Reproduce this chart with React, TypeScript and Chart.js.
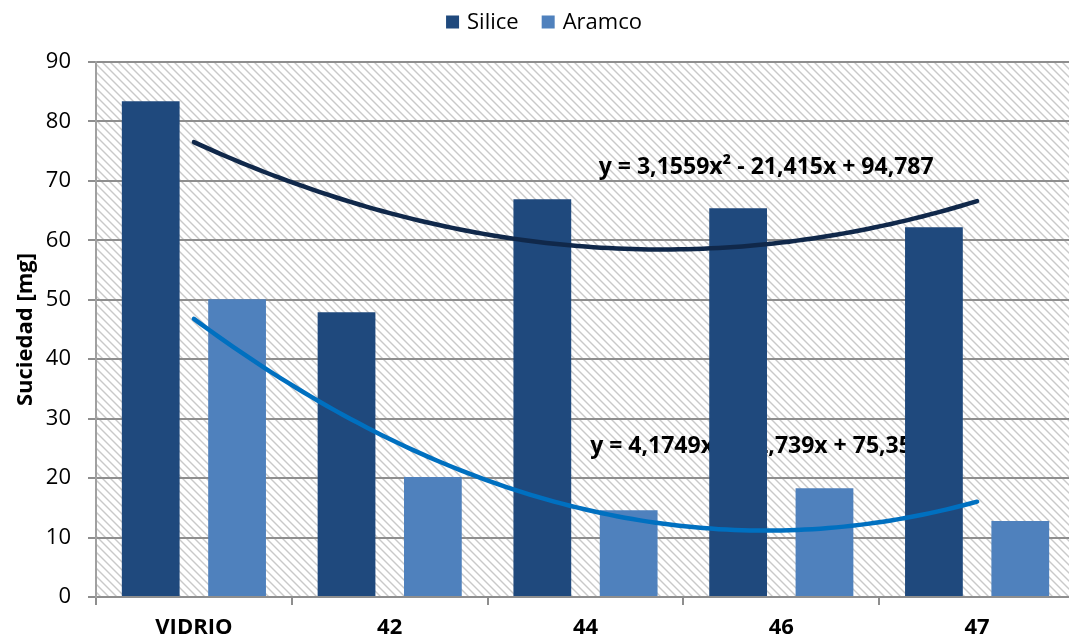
import React, { useEffect, useRef } from "react";
import { Chart, registerables } from "chart.js";

Chart.register(...registerables);

// ---- data ----
const categories = ["VIDRIO", "42", "44", "46", "47"];
const siliceValues = [83.4, 47.9, 66.9, 65.4, 62.2];
const aramcoValues = [50.1, 20.2, 14.6, 18.3, 12.8];
const yTickValues = [0, 10, 20, 30, 40, 50, 60, 70, 80, 90];

// polynomial trend lines (a·x² + b·x + c), x = 1..5 for the categories
const siliceTrendCoef = [3.1559, -21.415, 94.787];
const aramcoTrendCoef = [4.1749, -32.739, 75.358];
const siliceTrendLabel = "y = 3,1559x² - 21,415x + 94,787";
const aramcoTrendLabel = "y = 4,1749x² - 32,739x + 75,358";

const SILICE_COLOR = "#1F497D";
const ARAMCO_COLOR = "#4F81BD";
const SILICE_TREND_COLOR = "#10284A";
const ARAMCO_TREND_COLOR = "#0070C0";
const FONT = "'Open Sans', 'Noto Sans', sans-serif";

// the plot runs slightly past the right edge of the visible frame
const VIEW_W = 1069;
const VIEW_H = 642;
const CANVAS_W = 1075;

// diagonal hatch used as the plot-area background
function makeHatch(ctx: CanvasRenderingContext2D) {
  const tile = document.createElement("canvas");
  tile.width = 8;
  tile.height = 8;
  const t = tile.getContext("2d")!;
  t.fillStyle = "#ffffff";
  t.fillRect(0, 0, 8, 8);
  t.strokeStyle = "#C9C9C9";
  t.lineWidth = 1.4;
  for (const k of [-8, 0, 8]) {
    t.beginPath();
    t.moveTo(k - 1, -1);
    t.lineTo(k + 9, 9);
    t.stroke();
  }
  return ctx.createPattern(tile, "repeat");
}

const hatchBackground = {
  id: "hatchBackground",
  beforeDraw(chart: any) {
    const { ctx, chartArea } = chart;
    if (!chartArea) return;
    ctx.save();
    const p = makeHatch(ctx);
    if (p) ctx.fillStyle = p;
    ctx.fillRect(chartArea.left, chartArea.top, chartArea.right - chartArea.left, chartArea.bottom - chartArea.top);
    ctx.restore();
  },
};

// legend drawn above the plot
const legendStyle = { centerX: 544, centerY: 22, box: 13, gap: 8, spacing: 23, font: `22px ${FONT}` };

const legendPlugin = {
  id: "topLegend",
  afterDraw(chart: any) {
    const { ctx } = chart;
    const items = chart.data.datasets;
    ctx.save();
    ctx.font = legendStyle.font;
    ctx.textBaseline = "middle";
    ctx.textAlign = "left";
    const widths = items.map((d: any) => legendStyle.box + legendStyle.gap + ctx.measureText(d.label).width);
    const total = widths.reduce((a: number, b: number) => a + b, 0) + legendStyle.spacing * (items.length - 1);
    let x = legendStyle.centerX - total / 2;
    items.forEach((d: any, i: number) => {
      ctx.fillStyle = d.backgroundColor;
      ctx.fillRect(x, legendStyle.centerY - legendStyle.box / 2, legendStyle.box, legendStyle.box);
      ctx.fillStyle = "#000000";
      ctx.fillText(d.label, x + legendStyle.box + legendStyle.gap, legendStyle.centerY + 1);
      x += widths[i] + legendStyle.spacing;
    });
    ctx.restore();
  },
};

// trend curves, drawn over the bars through the chart's own scales
const trendCurves = [
  { coef: siliceTrendCoef, color: SILICE_TREND_COLOR },
  { coef: aramcoTrendCoef, color: ARAMCO_TREND_COLOR },
];

const trendPlugin = {
  id: "trendCurves",
  afterDatasetsDraw(chart: any) {
    const { ctx, scales } = chart;
    const xs = scales.x;
    const ys = scales.y;
    ctx.save();
    ctx.lineWidth = 4.5;
    ctx.lineCap = "round";
    ctx.lineJoin = "round";
    for (const t of trendCurves) {
      ctx.strokeStyle = t.color;
      ctx.beginPath();
      for (let i = 0; i <= 100; i++) {
        const x = 1 + (i / 100) * (categories.length - 1);
        const y = t.coef[0] * x * x + t.coef[1] * x + t.coef[2];
        const px = xs.getPixelForValue(x - 1);
        const py = ys.getPixelForValue(y);
        if (i === 0) ctx.moveTo(px, py);
        else ctx.lineTo(px, py);
      }
      ctx.stroke();
    }
    ctx.restore();
  },
};

// equation labels, anchored in category (1..5) / value coordinates
const equationLabels = [
  { text: siliceTrendLabel, x: 3.923, y: 72.2 },
  { text: aramcoTrendLabel, x: 3.879, y: 25.3 },
];

const equationPlugin = {
  id: "equationLabels",
  beforeDatasetsDraw(chart: any) {
    const { ctx, scales } = chart;
    ctx.save();
    ctx.font = `bold 23px ${FONT}`;
    ctx.fillStyle = "#000000";
    ctx.textAlign = "center";
    ctx.textBaseline = "middle";
    for (const l of equationLabels) {
      ctx.fillText(l.text, scales.x.getPixelForValue(l.x - 1), scales.y.getPixelForValue(l.y));
    }
    ctx.restore();
  },
};

export default function App() {
  const ref = useRef<HTMLCanvasElement | null>(null);

  useEffect(() => {
    if (!ref.current) return;
    const chart = new Chart(ref.current, {
      type: "bar",
      data: {
        labels: categories,
        datasets: [
          {
            label: "Silice",
            data: siliceValues,
            backgroundColor: SILICE_COLOR,
            borderWidth: 0,
          },
          {
            label: "Aramco",
            data: aramcoValues,
            backgroundColor: ARAMCO_COLOR,
            borderWidth: 0,
          },
        ],
      },
      options: {
        responsive: false,
        animation: false,
        events: [],
        layout: { padding: { top: 62, right: 0, left: 0, bottom: 0 } },
        datasets: {
          bar: { categoryPercentage: 0.882, barPercentage: 0.669 },
        },
        plugins: {
          legend: { display: false },
          tooltip: { enabled: false },
        },
        scales: {
          x: {
            type: "category",
            offset: true,
            grid: {
              offset: true,
              drawOnChartArea: false,
              drawTicks: true,
              tickLength: 8,
              color: "#8E8E8E",
              lineWidth: 2,
            },
            border: { color: "#8E8E8E", width: 2 },
            ticks: {
              color: "#000000",
              padding: 10,
              font: { family: FONT, size: 22, weight: "bold" },
              maxRotation: 0,
            },
            afterFit(scale: any) {
              scale.height = 45;
            },
          },
          y: {
            min: 0,
            max: 90,
            afterBuildTicks(scale: any) {
              scale.ticks = yTickValues.map((v) => ({ value: v }));
            },
            grid: {
              color: "#8E8E8E",
              lineWidth: 2,
              tickLength: 8,
            },
            border: { color: "#A0A0A0", width: 2 },
            ticks: {
              color: "#000000",
              padding: 17,
              font: { family: FONT, size: 22 },
            },
            title: {
              display: true,
              text: "Suciedad [mg]",
              color: "#000000",
              font: { family: FONT, size: 22, weight: "bold" },
              padding: { top: 13, bottom: 0 },
            },
            afterFit(scale: any) {
              scale.width = 96;
            },
          },
        },
      } as any,
      plugins: [hatchBackground, equationPlugin, trendPlugin, legendPlugin],
    });
    return () => chart.destroy();
  }, []);

  return (
    <div
      style={{
        position: "absolute",
        left: 0,
        top: 0,
        width: VIEW_W,
        height: VIEW_H,
        overflow: "hidden",
        background: "#ffffff",
      }}
    >
      <canvas ref={ref} width={CANVAS_W} height={VIEW_H} style={{ display: "block" }} />
    </div>
  );
}
